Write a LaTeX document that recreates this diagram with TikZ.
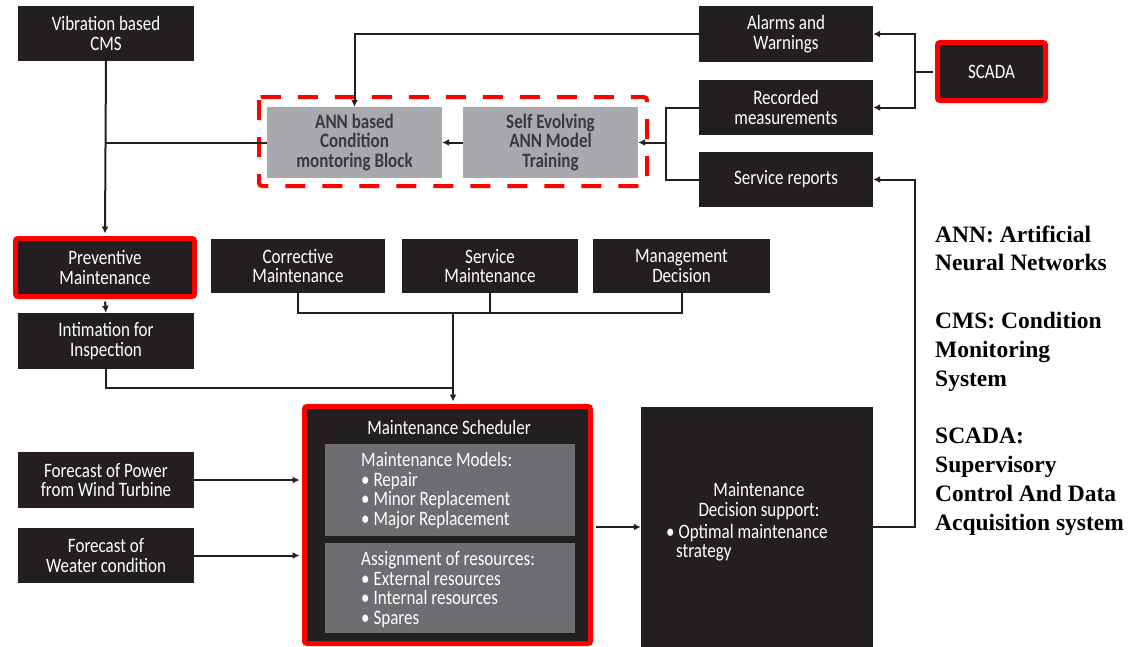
\documentclass[tikz,border=0pt]{standalone}
\usepackage{fontspec}
\setmainfont[FakeStretch=0.83]{Carlito}
\newfontfamily\legendfont{Liberation Serif}
\usetikzlibrary{arrows.meta}
\definecolor{boxblack}{HTML}{231F20}
\definecolor{annfill}{HTML}{A7A9AC}
\definecolor{anntext}{HTML}{3A3A3C}
\definecolor{subfill}{HTML}{6D6E71}
\definecolor{linecol}{HTML}{231F20}
\newcommand{\boxfont}{\fontsize{20.5}{19.5}\selectfont}
\begin{document}
\begin{tikzpicture}[x=1pt,y=-1pt,
  blk/.style={fill=boxblack,text=white,align=center,inner sep=0pt,font=\boxfont},
  annbox/.style={fill=annfill,text=anntext,align=center,inner sep=0pt,font=\boxfont\bfseries},
  redframe/.style={draw=red,line width=5pt,rounded corners=2.5pt},
  subbox/.style={fill=subfill,inner sep=0pt,minimum width=250pt},
  subtext/.style={text=white,align=left,inner sep=0pt,anchor=west,font=\boxfont},
  wire/.style={draw=linecol,line width=2pt},
  arr/.style={wire,-{Latex[length=7pt,width=7pt]}},
  legend/.style={anchor=base west,align=left,inner sep=0pt,
    font=\legendfont\bfseries\fontsize{23.5}{28.8}\selectfont}]
\useasboundingbox (0,0) rectangle (1130,646);
\fill[white] (0,0) rectangle (1130,646);

% data sources
\node[blk,minimum width=176pt,minimum height=55pt] (vib) at (106,33.5) {Vibration based\\CMS};
\node[blk,minimum width=174pt,minimum height=56pt] (alarm) at (786,34) {Alarms and\\Warnings};
\node[blk,minimum width=174pt,minimum height=55pt] (rec) at (786,107.5) {Recorded\\measurements};
\node[blk,minimum width=174pt,minimum height=55pt] (serv) at (786,179.5) {Service reports};
\node[blk,redframe,minimum width=108pt,minimum height=58pt] (scada) at (991.5,71.5) {SCADA};

% ANN based condition monitoring
\draw[red,line width=4pt,dash pattern=on 20pt off 17pt,rounded corners=3pt] (259,97) rectangle (647,186);
\node[annbox,minimum width=175pt,minimum height=71pt] (ann) at (354.5,142.5) {ANN based\\Condition\\montoring Block};
\node[annbox,minimum width=175pt,minimum height=71pt] (self) at (550.5,142.5) {Self Evolving\\ANN Model\\Training};

% maintenance types
\node[blk,redframe,minimum width=179pt,minimum height=58pt] (prev) at (105,267.5) {Preventive\\Maintenance};
\node[blk,minimum width=174pt,minimum height=54pt] (corr) at (298,266) {Corrective\\Maintenance};
\node[blk,minimum width=176pt,minimum height=54pt] (servm) at (490,266) {Service\\Maintenance};
\node[blk,minimum width=177pt,minimum height=54pt] (mgmt) at (681.5,266) {Management\\Decision};
\node[blk,minimum width=176pt,minimum height=56pt] (intim) at (106,341) {Intimation for\\Inspection};

% forecasts
\node[blk,minimum width=176pt,minimum height=56pt] (fpow) at (106,480) {Forecast of Power\\from Wind Turbine};
\node[blk,minimum width=176pt,minimum height=55pt] (fwea) at (106,555.5) {Forecast of\\Weater condition};

% scheduler
\node[fill=boxblack,redframe,minimum width=286pt,minimum height=237pt] (sched) at (447.5,525) {};
\node[text=white,font=\boxfont,inner sep=0pt] (schedt) at (449,427) {Maintenance Scheduler};
\node[subbox,minimum height=92pt] (sub1) at (450,490) {};
\node[subtext] (sub1t) at (361,490.5)
  {Maintenance Models:\\• Repair\\• Minor Replacement\\• Major Replacement};
\node[subbox,minimum height=90pt] (sub2) at (450,588) {};
\node[subtext] (sub2t) at (361,589.5)
  {Assignment of resources:\\• External resources\\• Internal resources\\• Spares};

% decision support
\node[fill=boxblack,minimum width=232pt,minimum height=240pt,inner sep=0pt] (dec) at (757,527) {};
\node[text=white,font=\boxfont,align=center,inner sep=0pt] (dect1) at (759,501) {Maintenance\\Decision support:};
\node[text=white,font=\boxfont,align=left,inner sep=0pt,anchor=west] (dect2) at (666,542.5)
  {• Optimal maintenance\\\hspace*{10pt}strategy};

% legend (base anchor sits on the last line)
\node[legend] (leg) at (935,530) {ANN: Artificial\\Neural Networks\\[28.8pt]CMS: Condition\\Monitoring\\System\\[28.8pt]SCADA:\\Supervisory\\Control And Data\\Acquisition system};

% connectors
\coordinate (js) at (915,71.5);
\draw[wire] ([xshift=-2.5pt]scada.west) -- (js);
\draw[arr] (js) |- (alarm.east);
\draw[arr] (js) |- (rec.east);
\draw[arr] (alarm.west) -| (ann.north);
\coordinate (jr) at (666,142.5);
\draw[wire] (rec.west) -| (jr);
\draw[wire] (serv.west) -| (jr);
\draw[arr] (jr) -- (self.east);
\draw[arr] (self.west) -- (ann.east);
\draw[arr] (vib.south) -- ([yshift=2.5pt]prev.north);
\draw[wire] (ann.west) -- (ann.west -| vib.south);
\draw[arr] ([yshift=-2.5pt]prev.south) -- (intim.north);
\coordinate (mrg) at (453,313);
\coordinate (jm) at (453,388);
\draw[wire] (corr.south) |- (mrg) -| (mgmt.south);
\draw[wire] (servm.south) -- (servm.south |- mrg);
\draw[wire] (intim.south) |- (jm);
\draw[arr] (mrg) -- ([yshift=2.5pt]mrg |- sched.north);
\draw[arr] (fpow.east) -- ([xshift=-2.5pt]sched.west |- fpow.east);
\draw[arr] (fwea.east) -- ([xshift=-2.5pt]sched.west |- fwea.east);
\draw[arr] ([xshift=2.5pt]sched.east |- dec.west) -- (dec.west);
\draw[arr] (dec.east) -- ++(42,0) |- (serv.east);
\end{tikzpicture}
\end{document}
